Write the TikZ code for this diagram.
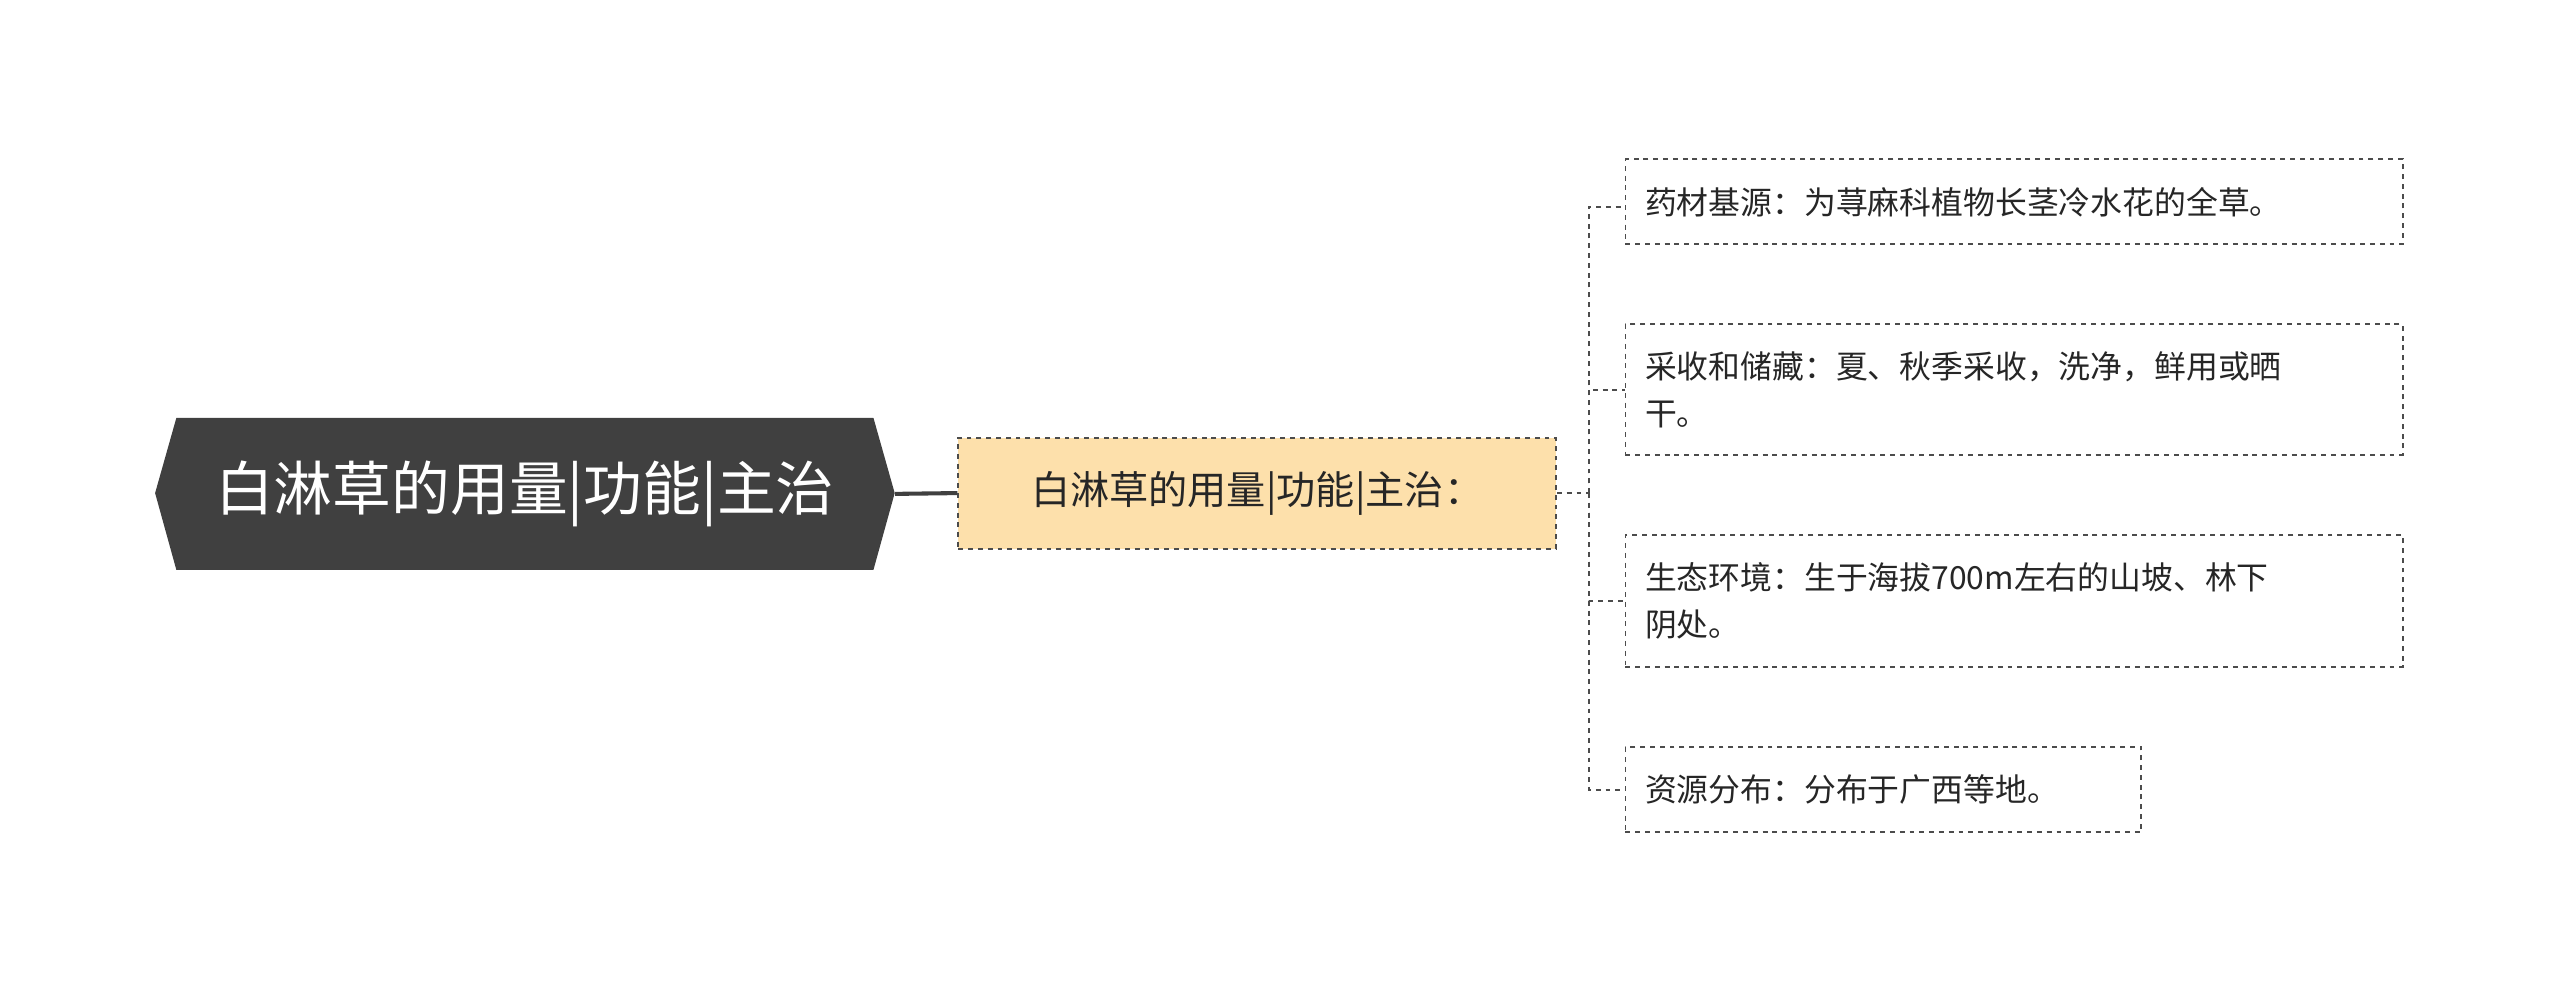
\documentclass[tikz,border=0pt]{standalone}
\usepackage{fontspec}
\setmainfont{Noto Sans CJK SC}
\begin{document}
\begin{tikzpicture}[x=1pt,y=1pt,
  leaf/.style={draw=black!70,dashed,line width=1.2pt,anchor=north west,text width=452pt,inner sep=12pt,align=left,font=\fontsize{19.5}{29}\selectfont,text=black!85},
  conn/.style={draw=black!70,dashed,line width=1.2pt}]
\useasboundingbox (0,0) rectangle (1568,-606);
\fill[black!75] (95,-302) -- (108,-256) -- (535,-256) -- (548,-302) -- (535,-349) -- (108,-349) -- cycle;
\node[text=white,font=\fontsize{36}{40}\selectfont,minimum width=453pt,minimum height=93pt] (root) at (321.5,-302.5) {白淋草的用量|功能|主治};
\node[draw=black!70,dashed,line width=1.2pt,fill=yellow!25!orange!30,fill opacity=1,minimum width=366pt,minimum height=68pt,font=\fontsize{24}{28}\selectfont,text=black!85] (mid) at (770,-302) {白淋草的用量|功能|主治：};
\draw[black!75,line width=2.5pt] (root.east) -- (mid.west);
\node[leaf,minimum height=52pt] (l1) at (995,-97) {药材基源：为荨麻科植物长茎冷水花的全草。};
\node[leaf,minimum height=80pt] (l2) at (995,-198) {采收和储藏：夏、秋季采收，洗净，鲜用或晒\\干。};
\node[leaf,minimum height=81pt] (l3) at (995,-327) {生态环境：生于海拔700m左右的山坡、林下\\阴处。};
\node[leaf,text width=292pt,minimum height=52pt] (l4) at (995,-457) {资源分布：分布于广西等地。};
\coordinate (sp) at (973,-302);
\draw[conn] (mid.east) -- (sp);
\draw[conn] (sp) |- ([yshift=-3pt]l1.west);
\draw[conn] (sp) |- (l2.west);
\draw[conn] (sp) |- (l3.west);
\draw[conn] (sp) |- ([yshift=0pt]l4.west);
\end{tikzpicture}
\end{document}
